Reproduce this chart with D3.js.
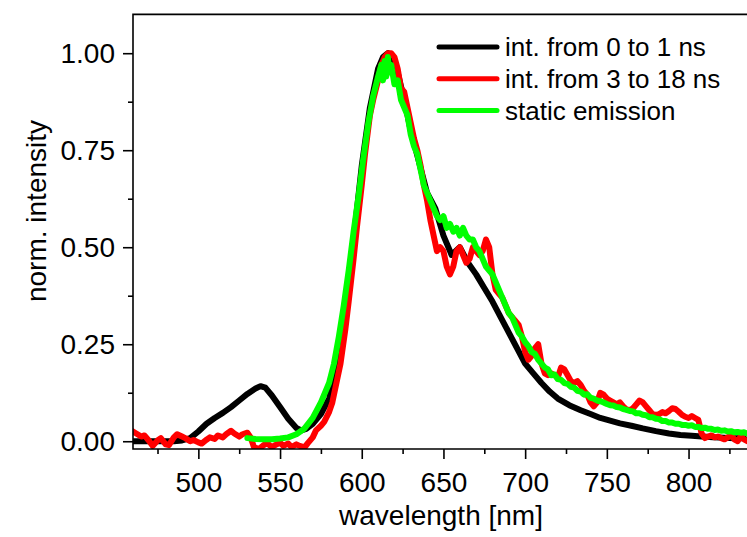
<!DOCTYPE html>
<html>
<head>
<meta charset="utf-8">
<script src="https://cdn.jsdelivr.net/npm/d3@7"></script>
<style>
  body { margin: 0; background: #fff; }
  svg { display: block; font-family: "Liberation Sans", Arial, sans-serif; }
</style>
</head>
<body>
<div id="chart"></div>
<script>
// wavelength [nm] / normalized intensity
const blackNm = [460, 465, 470, 475, 480, 485, 490, 495, 500, 505, 510, 515, 520, 525, 530, 535, 538, 541, 545, 550, 555, 560, 563, 566, 570, 575, 580, 585, 590, 595, 600, 605, 610, 613, 616, 619, 622, 626, 630, 635, 640, 645, 650, 655, 660, 665, 670, 675, 680, 685, 690, 695, 700, 705, 710, 715, 720, 727, 734, 740, 746, 752, 758, 765, 772, 780, 788, 795, 802, 808, 815, 822, 828, 834];
const blackVal = [0.0, 0.0, 0.0, 0.0, 0.0, 0.0, 0.002, 0.008, 0.025, 0.045, 0.06, 0.073, 0.088, 0.105, 0.122, 0.136, 0.142, 0.138, 0.118, 0.088, 0.058, 0.034, 0.028, 0.032, 0.045, 0.07, 0.11, 0.2, 0.33, 0.52, 0.71, 0.86, 0.96, 0.99, 1.0, 0.98, 0.95, 0.88, 0.8, 0.72, 0.64, 0.6, 0.53, 0.48, 0.5, 0.46, 0.43, 0.395, 0.36, 0.32, 0.28, 0.24, 0.2, 0.175, 0.15, 0.128, 0.11, 0.093, 0.08, 0.07, 0.06, 0.053, 0.046, 0.04, 0.033, 0.026, 0.02, 0.016, 0.014, 0.012, 0.01, 0.009, 0.008, 0.008];

const redNm = [458, 460, 462, 465, 467, 470, 472, 475, 477, 480, 482, 485, 487, 490, 492, 495, 497, 500, 502, 505, 507, 510, 512, 515, 517, 520, 522, 525, 527, 530, 532, 534, 537, 540, 542, 545, 547, 550, 552, 555, 557, 560, 562, 565, 567, 570, 572, 575, 577, 580, 582, 585, 587, 590, 592, 595, 597, 600, 602, 605, 607, 610, 612, 614, 616, 618, 620, 622, 624, 626, 628, 630, 632, 634, 636, 638, 640, 642, 644, 646, 648, 650, 652, 654, 656, 658, 660, 662, 664, 666, 668, 670, 672, 674, 676, 678, 680, 682, 684, 686, 688, 690, 692, 694, 696, 698, 700, 702, 704, 706, 708, 710, 712, 714, 716, 718, 720, 722, 724, 726, 728, 730, 732, 734, 736, 738, 740, 742, 744, 746, 748, 750, 752, 754, 756, 758, 760, 762, 764, 766, 768, 770, 772, 774, 776, 778, 780, 782, 784, 786, 788, 790, 792, 794, 796, 798, 800, 802, 804, 806, 808, 810, 812, 814, 816, 818, 820, 822, 824, 826, 828, 830, 832, 834, 836];
const redVal = [0.03, 0.025, 0.02, 0.012, 0.015, 0.0, -0.012, 0.002, 0.008, -0.008, -0.01, 0.01, 0.018, 0.012, 0.008, 0.0, 0.003, -0.003, -0.006, 0.004, 0.01, 0.006, 0.015, 0.01, 0.018, 0.027, 0.02, 0.012, 0.018, 0.022, 0.01, -0.015, -0.02, -0.01, -0.005, -0.015, -0.01, -0.004, -0.012, -0.006, -0.015, -0.008, -0.012, -0.016, -0.005, 0.01, 0.028, 0.04, 0.05, 0.075, 0.1, 0.16, 0.2, 0.29, 0.36, 0.47, 0.55, 0.66, 0.74, 0.84, 0.88, 0.93, 0.97, 0.99, 1.0, 1.0, 0.99, 0.96, 0.91, 0.9, 0.86, 0.82, 0.78, 0.75, 0.71, 0.66, 0.62, 0.57, 0.53, 0.49, 0.5, 0.49, 0.45, 0.43, 0.45, 0.49, 0.5, 0.48, 0.46, 0.47, 0.5, 0.49, 0.48, 0.49, 0.52, 0.5, 0.43, 0.39, 0.38, 0.37, 0.35, 0.33, 0.32, 0.31, 0.3, 0.27, 0.23, 0.21, 0.22, 0.24, 0.25, 0.2, 0.175, 0.17, 0.175, 0.17, 0.165, 0.19, 0.185, 0.17, 0.155, 0.15, 0.155, 0.145, 0.13, 0.12, 0.1, 0.09, 0.1, 0.125, 0.12, 0.11, 0.105, 0.1, 0.095, 0.1, 0.09, 0.082, 0.08, 0.085, 0.095, 0.105, 0.1, 0.09, 0.08, 0.07, 0.068, 0.07, 0.075, 0.072, 0.078, 0.085, 0.083, 0.076, 0.068, 0.063, 0.06, 0.065, 0.06, 0.055, 0.02, 0.008, 0.012, 0.015, 0.01, 0.012, 0.008, 0.005, 0.01, 0.015, 0.005, 0.0, 0.012, 0.005, 0.0];

const greenNm = [530, 535, 540, 545, 550, 555, 560, 565, 570, 575, 580, 583, 586, 589, 592, 595, 598, 601, 604, 607, 610, 612, 613, 614, 615, 616, 617, 618, 620, 622, 624, 626, 628, 630, 632, 634, 636, 638, 640, 642, 644, 646, 648, 650, 652, 654, 656, 658, 660, 662, 664, 666, 668, 670, 672, 674, 676, 678, 680, 682, 684, 686, 688, 690, 692, 694, 696, 698, 700, 702, 704, 706, 708, 710, 712, 714, 716, 718, 720, 722, 724, 726, 728, 730, 732, 734, 736, 738, 740, 742, 744, 746, 748, 750, 752, 754, 756, 758, 760, 762, 764, 766, 768, 770, 772, 774, 776, 778, 780, 782, 784, 786, 788, 790, 792, 794, 796, 798, 800, 802, 804, 806, 808, 810, 812, 814, 816, 818, 820, 822, 824, 826, 828, 830, 832, 834, 836];
const greenVal = [0.008, 0.006, 0.005, 0.005, 0.007, 0.01, 0.018, 0.033, 0.06, 0.1, 0.15, 0.2, 0.27, 0.35, 0.44, 0.54, 0.63, 0.73, 0.82, 0.89, 0.94, 0.97, 0.93, 0.98, 0.94, 0.99, 0.95, 0.97, 0.92, 0.93, 0.88, 0.86, 0.84, 0.79, 0.76, 0.74, 0.7, 0.66, 0.64, 0.62, 0.6, 0.58, 0.57, 0.58, 0.55, 0.56, 0.54, 0.55, 0.53, 0.55, 0.53, 0.52, 0.52, 0.5, 0.49, 0.47, 0.45, 0.44, 0.43, 0.41, 0.39, 0.37, 0.35, 0.33, 0.32, 0.3, 0.28, 0.27, 0.255, 0.245, 0.23, 0.225, 0.21, 0.2, 0.19, 0.185, 0.17, 0.172, 0.16, 0.158, 0.15, 0.148, 0.14, 0.138, 0.13, 0.128, 0.12, 0.121, 0.112, 0.11, 0.105, 0.103, 0.1, 0.096, 0.093, 0.092, 0.088, 0.087, 0.083, 0.081, 0.078, 0.077, 0.072, 0.072, 0.068, 0.067, 0.062, 0.062, 0.058, 0.057, 0.052, 0.052, 0.048, 0.048, 0.045, 0.045, 0.042, 0.042, 0.04, 0.041, 0.037, 0.037, 0.034, 0.035, 0.032, 0.032, 0.029, 0.03, 0.027, 0.028, 0.025, 0.026, 0.023, 0.024, 0.022, 0.023, 0.02];

const seriesNames = ["int. from 0 to 1 ns", "int. from 3 to 18 ns", "static emission"];
const seriesColors = ["#000000", "#ff0000", "#00ff00"];
const xTicks = [500, 550, 600, 650, 700, 750, 800];
const yTicks = [0, 0.25, 0.5, 0.75, 1.0];

const W = 747, H = 537;
const plot = { left: 133, right: 749, top: 14.4, bottom: 449 };

const svg = d3.select("#chart").append("svg")
  .attr("width", W)
  .attr("height", H);

const x = d3.scaleLinear().domain([460, 837]).range([plot.left, plot.right]);
const y = d3.scaleLinear().domain([-0.02, 1.1]).range([plot.bottom, plot.top]);

svg.append("clipPath").attr("id", "clip")
  .append("rect")
  .attr("x", plot.left).attr("y", plot.top)
  .attr("width", plot.right - plot.left).attr("height", plot.bottom - plot.top);

const series = [
  { nm: blackNm, val: blackVal },
  { nm: redNm, val: redVal },
  { nm: greenNm, val: greenVal },
];

const line = d3.line()
  .x(d => x(d[0]))
  .y(d => y(d[1]));

const lines = svg.append("g").attr("clip-path", "url(#clip)");
series.forEach((s, i) => {
  lines.append("path")
    .datum(d3.zip(s.nm, s.val))
    .attr("fill", "none")
    .attr("stroke", seriesColors[i])
    .attr("stroke-width", 6)
    .attr("stroke-linejoin", "round")
    .attr("stroke-linecap", "round")
    .attr("d", line);
});

// axes (major + minor ticks, outward)
const xAxis = svg.append("g")
  .attr("transform", `translate(0,${plot.bottom})`)
  .call(d3.axisBottom(x).tickValues(xTicks).tickSize(10).tickSizeOuter(0).tickPadding(8).tickFormat(d3.format("d")));
svg.append("g")
  .attr("transform", `translate(0,${plot.bottom})`)
  .call(d3.axisBottom(x).tickValues(d3.range(475, 837, 50)).tickSize(5).tickSizeOuter(0).tickFormat(""));

const yAxis = svg.append("g")
  .attr("transform", `translate(${plot.left},0)`)
  .call(d3.axisLeft(y).tickValues(yTicks).tickSize(10).tickSizeOuter(0).tickPadding(8).tickFormat(d3.format(".2f")));
svg.append("g")
  .attr("transform", `translate(${plot.left},0)`)
  .call(d3.axisLeft(y).tickValues([0.125, 0.375, 0.625, 0.875]).tickSize(5).tickSizeOuter(0).tickFormat(""));

svg.selectAll(".domain").remove();
svg.selectAll(".tick line").attr("stroke", "#000").attr("stroke-width", 1.6);
svg.selectAll(".tick text")
  .attr("font-size", 28)
  .attr("font-family", "Liberation Sans, Arial, sans-serif")
  .attr("fill", "#000");
xAxis.selectAll(".tick text").attr("dy", "0.88em");

// frame (left, bottom, top; right edge falls outside the picture)
svg.append("path")
  .attr("d", `M${plot.right},${plot.top}H${plot.left}V${plot.bottom}H${plot.right}`)
  .attr("fill", "none")
  .attr("stroke", "#000")
  .attr("stroke-width", 1.6);

svg.append("text")
  .attr("x", 441)
  .attr("y", 525)
  .attr("text-anchor", "middle")
  .attr("font-size", 28)
  .text("wavelength [nm]");

svg.append("text")
  .attr("transform", "translate(46,211) rotate(-90)")
  .attr("text-anchor", "middle")
  .attr("font-size", 28)
  .text("norm. intensity");

// legend
const legend = svg.append("g").attr("transform", "translate(437,47)");
seriesNames.forEach((name, i) => {
  const g = legend.append("g").attr("transform", `translate(0,${i * 31.7})`);
  g.append("line")
    .attr("x1", 2).attr("x2", 60)
    .attr("stroke", seriesColors[i])
    .attr("stroke-width", 5)
    .attr("stroke-linecap", "round");
  g.append("text")
    .attr("x", 68)
    .attr("dy", "0.36em")
    .attr("font-size", 26)
    .text(name);
});
</script>
</body>
</html>
